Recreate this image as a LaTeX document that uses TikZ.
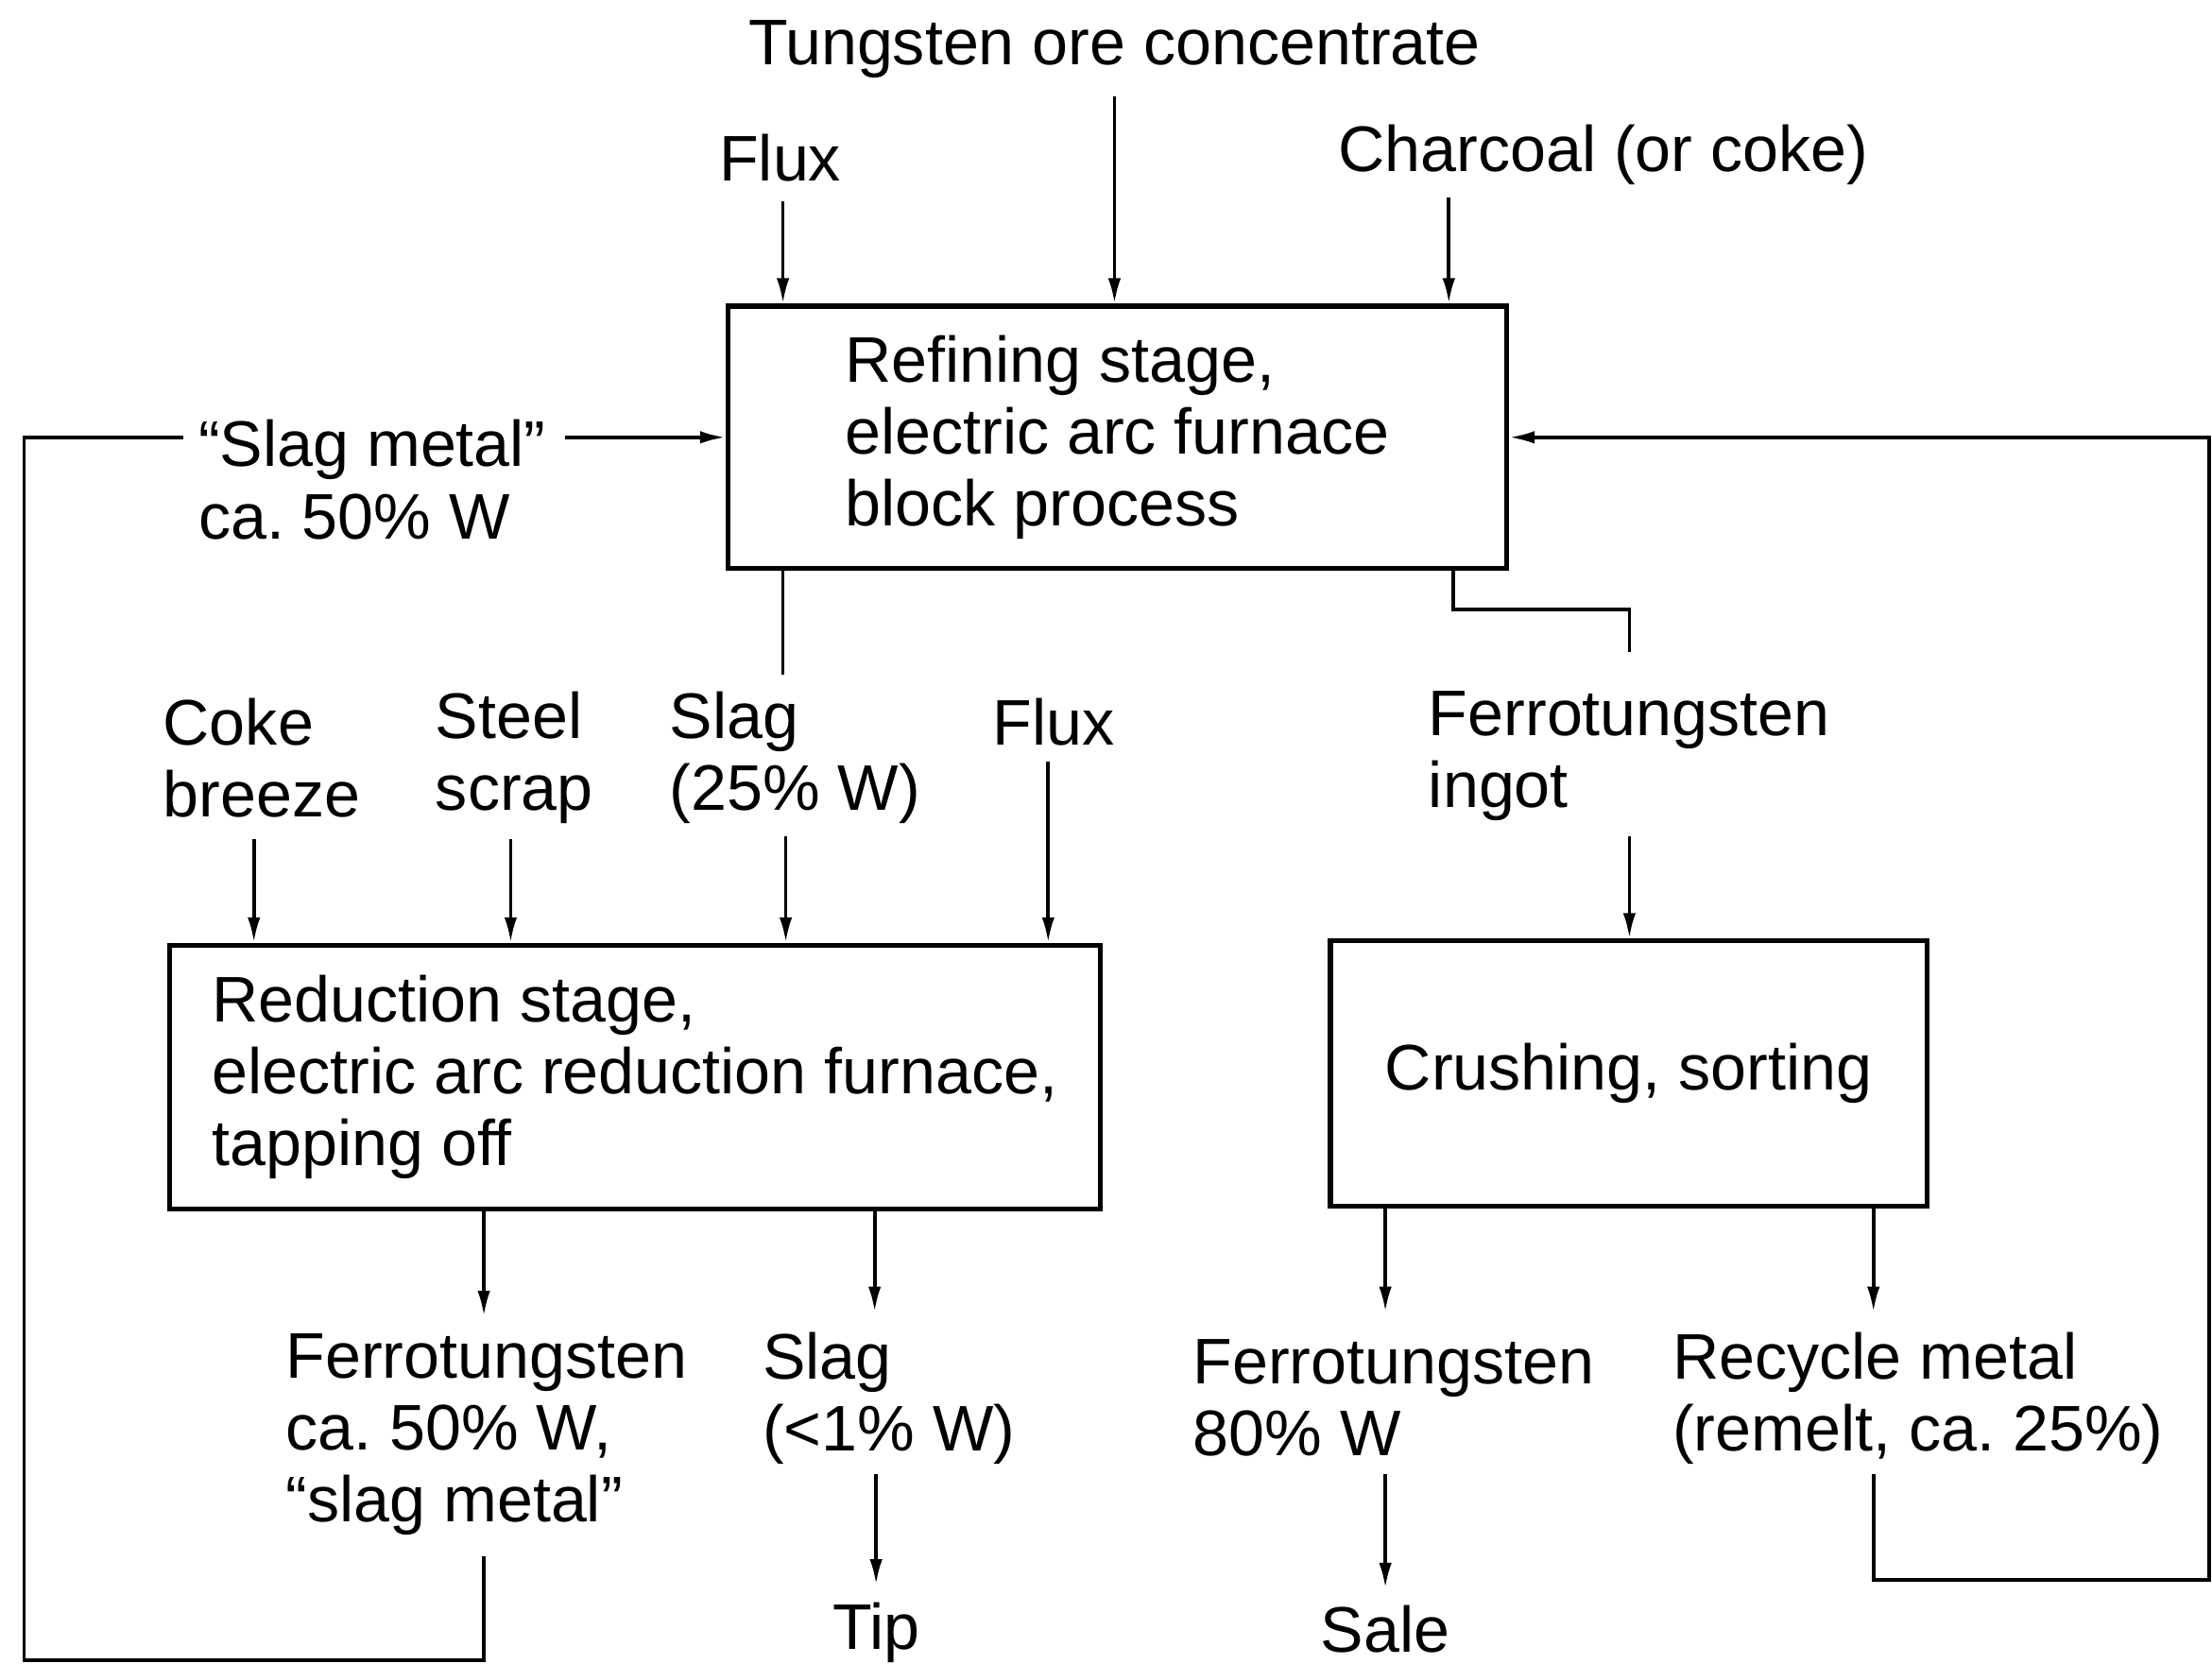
\documentclass[tikz,border=0pt]{standalone}
\usepackage{fontspec}
\setmainfont{Liberation Sans}
\usetikzlibrary{arrows.meta}
\tikzset{stagebox/.style = {draw, line width = 1pt, align = left}}
\tikzset{lbl/.style = {align = left, anchor = west, inner sep = 0}}
\tikzset{feed/.style = {line width = 0.7pt}}
\tikzset{flow/.style = {feed, -{Latex[length = 1.8mm, width = 0.9mm]}}}

\begin{document}
\begin{tikzpicture}[font = \fontsize{13}{14.5}\selectfont]
  \useasboundingbox (0, 0) rectangle (15.68, -11.79);

  % stages
  \node [stagebox, minimum width = 5.52cm, minimum height = 1.86cm] (refine) at (7.92, -3.10)
    {Refining stage,\\ electric arc furnace\\ block process};
  \node [stagebox, minimum width = 6.60cm, minimum height = 1.87cm] (reduce) at (4.50, -7.635)
    {Reduction stage,\\ electric arc reduction furnace,\\ tapping off};
  \node [stagebox, minimum width = 4.23cm, minimum height = 1.88cm] (crush) at (11.545, -7.61)
    {Crushing, sorting};

  % labels
  \node (ore) at (7.90, -0.35) {Tungsten ore concentrate};
  \node (fluxa) at (5.53, -1.12) {Flux};
  \node [lbl] (charcoal) at (9.48, -1.10) {Charcoal (or coke)};
  \node [lbl] (slagmetal) at (1.40, -3.40) {``Slag metal''\\ ca.\ 50\% W};
  \node [lbl] (coke) at (1.15, -5.37) {Coke\\ breeze};
  \node [lbl] (scrap) at (3.08, -5.37) {Steel\\ scrap};
  \node [lbl] (slagw) at (4.74, -5.37) {Slag\\ (25\% W)};
  \node [lbl] (fluxb) at (7.03, -5.12) {Flux};
  \node [lbl] (ingot) at (10.12, -5.36) {Ferrotungsten\\ ingot};
  \node [lbl] (ferro) at (2.02, -10.17) {Ferrotungsten\\ ca.\ 50\% W,\\ ``slag metal''};
  \node [lbl] (slagout) at (5.40, -9.91) {Slag\\ (<1\% W)};
  \node [lbl] (ferroeighty) at (8.45, -9.91) {Ferrotungsten\\ 80\% W};
  \node [lbl] (recycle) at (11.85, -9.91) {Recycle metal\\ (remelt, ca.\ 25\%)};
  \node (tip) at (6.21, -11.57) {Tip};
  \node (sale) at (9.82, -11.55) {Sale};

  % line ends
  \coordinate (fluxin) at (5.55, -1.43);
  \coordinate (orein) at (7.90, -0.68);
  \coordinate (charin) at (10.27, -1.40);
  \coordinate (cokein) at (1.80, -5.95);
  \coordinate (scrapin) at (3.62, -5.95);
  \coordinate (slagin) at (5.57, -5.93);
  \coordinate (fluxbin) at (7.43, -5.40);
  \coordinate (ingotin) at (11.55, -5.93);
  \coordinate (slagtop) at (5.55, -4.78);
  \coordinate (ingotbend) at (10.30, -4.32);
  \coordinate (ingottop) at (11.55, -4.62);
  \coordinate (ferroend) at (3.43, -9.33);
  \coordinate (slagend) at (6.20, -9.30);
  \coordinate (saleend) at (9.82, -9.30);
  \coordinate (recycleend) at (13.28, -9.30);
  \coordinate (tipfrom) at (6.21, -10.45);
  \coordinate (salefrom) at (9.82, -10.45);
  \coordinate (recyclefrom) at (13.28, -10.45);
  \coordinate (metalfrom) at (3.43, -11.03);

  % feeds
  \draw [flow] (fluxin) -- (fluxin |- refine.north);
  \draw [flow] (orein) -- (orein |- refine.north);
  \draw [flow] (charin) -- (charin |- refine.north);
  \draw [feed] (slagtop |- refine.south) -- (slagtop);
  \draw [feed] (ingotbend |- refine.south) -- (ingotbend) -| (ingottop);
  \draw [flow] (cokein) -- (cokein |- reduce.north);
  \draw [flow] (scrapin) -- (scrapin |- reduce.north);
  \draw [flow] (slagin) -- (slagin |- reduce.north);
  \draw [flow] (fluxbin) -- (fluxbin |- reduce.north);
  \draw [flow] (ingotin) -- (ingotin |- crush.north);
  \draw [flow] (ferroend |- reduce.south) -- (ferroend);
  \draw [flow] (slagend |- reduce.south) -- (slagend);
  \draw [flow] (saleend |- crush.south) -- (saleend);
  \draw [flow] (recycleend |- crush.south) -- (recycleend);
  \draw [flow] (tipfrom) -- (tip);
  \draw [flow] (salefrom) -- (sale);

  % recycle loops
  \draw [flow] (recyclefrom) |- (15.66, -11.20) |- (refine.east);
  \draw [feed] (metalfrom) |- (0.17, -11.77) |- ([xshift = -0.1cm]slagmetal.west |- refine.west);
  \draw [flow] ([xshift = 0.13cm]slagmetal.east |- refine.west) -- (refine.west);
\end{tikzpicture}
\end{document}
